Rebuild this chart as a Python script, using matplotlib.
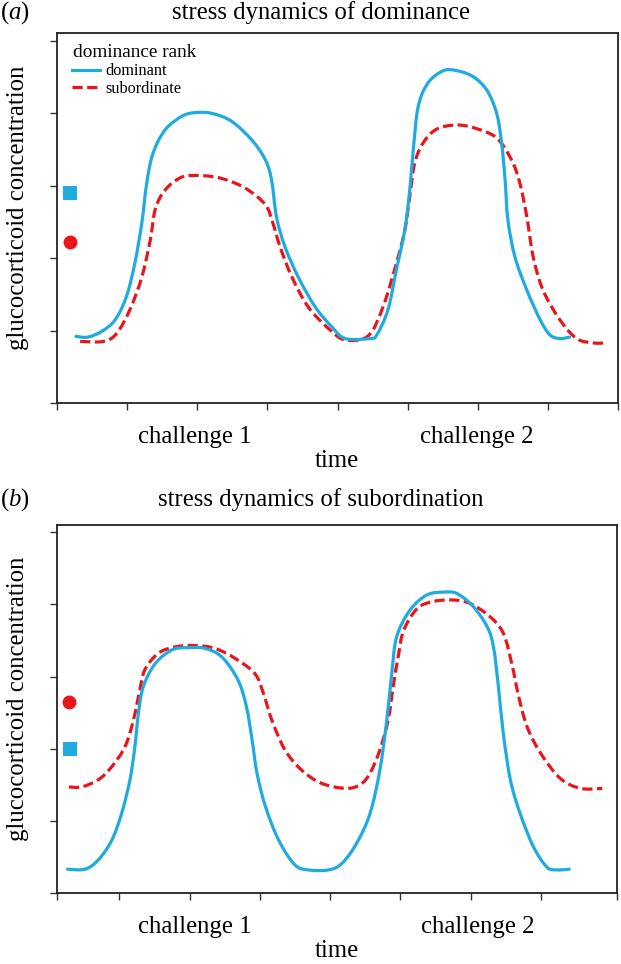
import matplotlib
matplotlib.use("Agg")
import matplotlib.pyplot as plt
import numpy as np
from matplotlib.path import Path
from matplotlib.patches import PathPatch
from matplotlib.lines import Line2D

plt.rcParams['font.family'] = ['Liberation Serif', 'DejaVu Serif']
plt.rcParams['mathtext.fontset'] = 'custom'
plt.rcParams['mathtext.rm'] = 'Liberation Serif'
plt.rcParams['mathtext.it'] = 'Liberation Serif:italic'

W, H = 621, 964
BLUE = '#1fabe0'
RED = '#e8161c'

# series (time and concentration in tick units)
dom_a_t = [0.27, 0.44, 0.64, 0.83, 0.99, 1.11, 1.21, 1.28, 1.37, 1.54, 1.78, 1.97,
           2.21, 2.49, 2.78, 2.97, 3.06, 3.13, 3.25, 3.44, 3.68, 3.92, 4.11, 4.46,
           4.56, 4.72, 4.84, 4.96, 5.03, 5.08, 5.15, 5.29, 5.51, 5.70, 5.93, 6.13,
           6.27, 6.34, 6.39, 6.43, 6.53, 6.70, 6.89, 7.03, 7.17, 7.31]
dom_a_v = [0.92, 0.91, 0.99, 1.15, 1.47, 1.93, 2.49, 3.04, 3.45, 3.77, 3.96, 4.01,
           4.00, 3.89, 3.63, 3.36, 3.08, 2.57, 2.16, 1.74, 1.33, 1.05, 0.89, 0.89,
           0.94, 1.29, 1.84, 2.39, 2.94, 3.49, 4.09, 4.42, 4.59, 4.59, 4.51, 4.32,
           4.00, 3.59, 3.08, 2.53, 2.02, 1.56, 1.15, 0.94, 0.89, 0.91]
sub_a_t = [0.33, 0.66, 0.85, 1.04, 1.21, 1.33, 1.40, 1.54, 1.78, 2.06, 2.35, 2.68,
           2.97, 3.08, 3.18, 3.35, 3.58, 3.87, 4.11, 4.44, 4.65, 4.84, 4.96, 5.03,
           5.10, 5.22, 5.41, 5.70, 5.98, 6.27, 6.48, 6.60, 6.70, 6.79, 6.93, 7.17,
           7.41, 7.65, 7.84]
sub_a_v = [0.85, 0.85, 0.96, 1.29, 1.74, 2.25, 2.67, 2.94, 3.12, 3.14, 3.10, 2.97,
           2.74, 2.48, 2.16, 1.74, 1.33, 1.03, 0.87, 0.93, 1.33, 1.93, 2.39, 2.85,
           3.31, 3.59, 3.78, 3.84, 3.79, 3.66, 3.36, 3.04, 2.57, 2.02, 1.56, 1.15,
           0.89, 0.83, 0.83]

dom_b_t = [0.15, 0.40, 0.59, 0.78, 0.92, 1.04, 1.11, 1.16, 1.23, 1.40, 1.64, 1.87,
           2.11, 2.35, 2.58, 2.70, 2.78, 2.85, 2.97, 3.16, 3.39, 3.58, 3.87, 4.06,
           4.27, 4.46, 4.60, 4.70, 4.77, 4.84, 5.03, 5.27, 5.51, 5.70, 5.93, 6.13,
           6.22, 6.29, 6.36, 6.46, 6.60, 6.79, 6.98, 7.12, 7.30]
dom_b_v = [0.33, 0.33, 0.46, 0.73, 1.10, 1.57, 2.03, 2.49, 2.86, 3.18, 3.37, 3.40,
           3.39, 3.27, 2.95, 2.58, 2.12, 1.66, 1.20, 0.73, 0.39, 0.32, 0.32, 0.41,
           0.69, 1.10, 1.70, 2.40, 3.04, 3.55, 3.92, 4.13, 4.17, 4.15, 3.97, 3.69,
           3.41, 2.86, 2.21, 1.57, 1.10, 0.64, 0.36, 0.32, 0.33]
sub_b_t = [0.17, 0.35, 0.59, 0.78, 0.97, 1.09, 1.18, 1.25, 1.44, 1.68, 1.97, 2.25,
           2.54, 2.82, 2.94, 3.06, 3.25, 3.49, 3.77, 4.11, 4.32, 4.46, 4.60, 4.72,
           4.79, 4.87, 4.94, 5.13, 5.36, 5.65, 5.89, 6.17, 6.36, 6.48, 6.58, 6.70,
           6.89, 7.17, 7.46, 7.77]
sub_b_v = [1.47, 1.47, 1.57, 1.75, 2.03, 2.40, 2.81, 3.09, 3.32, 3.41, 3.43, 3.39,
           3.25, 3.04, 2.77, 2.40, 1.98, 1.70, 1.52, 1.45, 1.50, 1.66, 1.98, 2.40,
           2.86, 3.32, 3.64, 3.94, 4.04, 4.06, 4.01, 3.83, 3.60, 3.18, 2.72, 2.30,
           1.94, 1.59, 1.45, 1.45]

# baseline (square = dominant, circle = subordinate)
base_a = {'dominant': (0.19, 2.90), 'subordinate': (0.19, 2.23)}
base_b = {'dominant': (0.19, 1.99), 'subordinate': (0.17, 2.65)}

series_names = ['dominant', 'subordinate']
legend_title = 'dominance rank'
challenge_labels = ['challenge 1', 'challenge 2']
challenge_pos = [1.97, 5.99]
titles = ['stress dynamics of dominance', 'stress dynamics of subordination']
panel_tags = [r'$(\mathit{a})$', r'$(\mathit{b})$']

xticks_a = [0, 1, 2, 3, 4, 5, 6, 7, 8]
xticks_b = [0, 0.88, 1.90, 2.89, 3.89, 4.89, 5.90, 6.90, 7.98]
yticks = [0, 1, 2, 3, 4, 5]

LW = 2.3
DASH = (0, (3.2, 1.4))


def fx(px):
    return px / W


def fy(py):
    return 1 - py / H


def smooth_path(t, v):
    # draw the hand-traced curve with cubic segments through the read points
    p = np.column_stack([t, v])
    n = len(p)
    verts = [p[0]]
    codes = [Path.MOVETO]
    for i in range(n - 1):
        p0 = p[i - 1] if i > 0 else p[i]
        p3 = p[i + 2] if i + 2 < n else p[i + 1]
        verts += [p[i] + (p[i + 1] - p0) / 6, p[i + 1] - (p3 - p[i]) / 6, p[i + 1]]
        codes += [Path.CURVE4] * 3
    return Path(verts, codes)


fig = plt.figure(figsize=(W / 100, H / 100), dpi=100)

ax_a = fig.add_axes([fx(57), fy(403), (618 - 57) / W, (403 - 33) / H])
ax_b = fig.add_axes([fx(57), fy(893), (617 - 57) / W, (893 - 525) / H])


def style_axes(ax, xticks, xmax, ymax):
    ax.set_xlim(0, xmax)
    ax.set_ylim(0, ymax)
    ax.set_xticks(xticks)
    ax.set_yticks(yticks)
    ax.set_xticklabels([])
    ax.set_yticklabels([])
    ax.tick_params(direction='out', length=5, width=1, colors='#333333')
    for sp in ax.spines.values():
        sp.set_linewidth(1.3)
        sp.set_color('#222222')


def draw_panel(ax, dom_t, dom_v, sub_t, sub_v, base):
    ax.add_patch(PathPatch(smooth_path(sub_t, sub_v), fill=False, edgecolor=RED,
                           lw=LW, linestyle=DASH, capstyle='butt', zorder=2))
    ax.add_patch(PathPatch(smooth_path(dom_t, dom_v), fill=False, edgecolor=BLUE,
                           lw=LW, capstyle='round', joinstyle='round', zorder=3))
    ax.plot(*base['dominant'], marker='s', ms=10.5, mew=0, color=BLUE,
            clip_on=False, zorder=4)
    ax.plot(*base['subordinate'], marker='o', ms=10, mew=0, color=RED,
            clip_on=False, zorder=4)
    for lab, pos in zip(challenge_labels, challenge_pos):
        ax.annotate(lab, xy=(pos, 0), xycoords=('data', 'axes fraction'),
                    xytext=(0, -24.5), textcoords='offset points',
                    ha='center', va='center', fontsize=17.8)


style_axes(ax_a, xticks_a, 8.0, 5.11)
style_axes(ax_b, xticks_b, 7.98, 5.10)
draw_panel(ax_a, dom_a_t, dom_a_v, sub_a_t, sub_a_v, base_a)
draw_panel(ax_b, dom_b_t, dom_b_v, sub_b_t, sub_b_v, base_b)

# legend (title drawn separately so its gap to the entries can be set)
handles = [Line2D([], [], color=BLUE, lw=LW),
           Line2D([], [], color=RED, lw=LW, linestyle=DASH)]
ax_a.legend(handles, series_names, loc='upper left',
            bbox_to_anchor=(0.026, 0.918), frameon=False, fontsize=11.7,
            borderpad=0, borderaxespad=0, handlelength=1.75,
            handletextpad=0.3, labelspacing=0.1)
ax_a.text(0.0285, 0.946, legend_title, transform=ax_a.transAxes,
          ha='left', va='center', fontsize=13.9)

# titles, panel tags, axis labels
for tag, title, ty in zip(panel_tags, titles, [13, 500]):
    fig.text(fx(321), fy(ty), title, ha='center', va='center', fontsize=17.8)
    fig.text(fx(15), fy(ty), tag, ha='center', va='center', fontsize=17.8)

for bottom, label_y in [(403, 208), (893, 699)]:
    fig.text(fx(18), fy(label_y), 'glucocorticoid concentration',
             rotation=90, ha='center', va='center', fontsize=17.8)
    fig.text(fx(337), fy(bottom + 58), 'time', ha='center', va='center',
             fontsize=17.8)

fig.savefig('out.png', dpi=100)
